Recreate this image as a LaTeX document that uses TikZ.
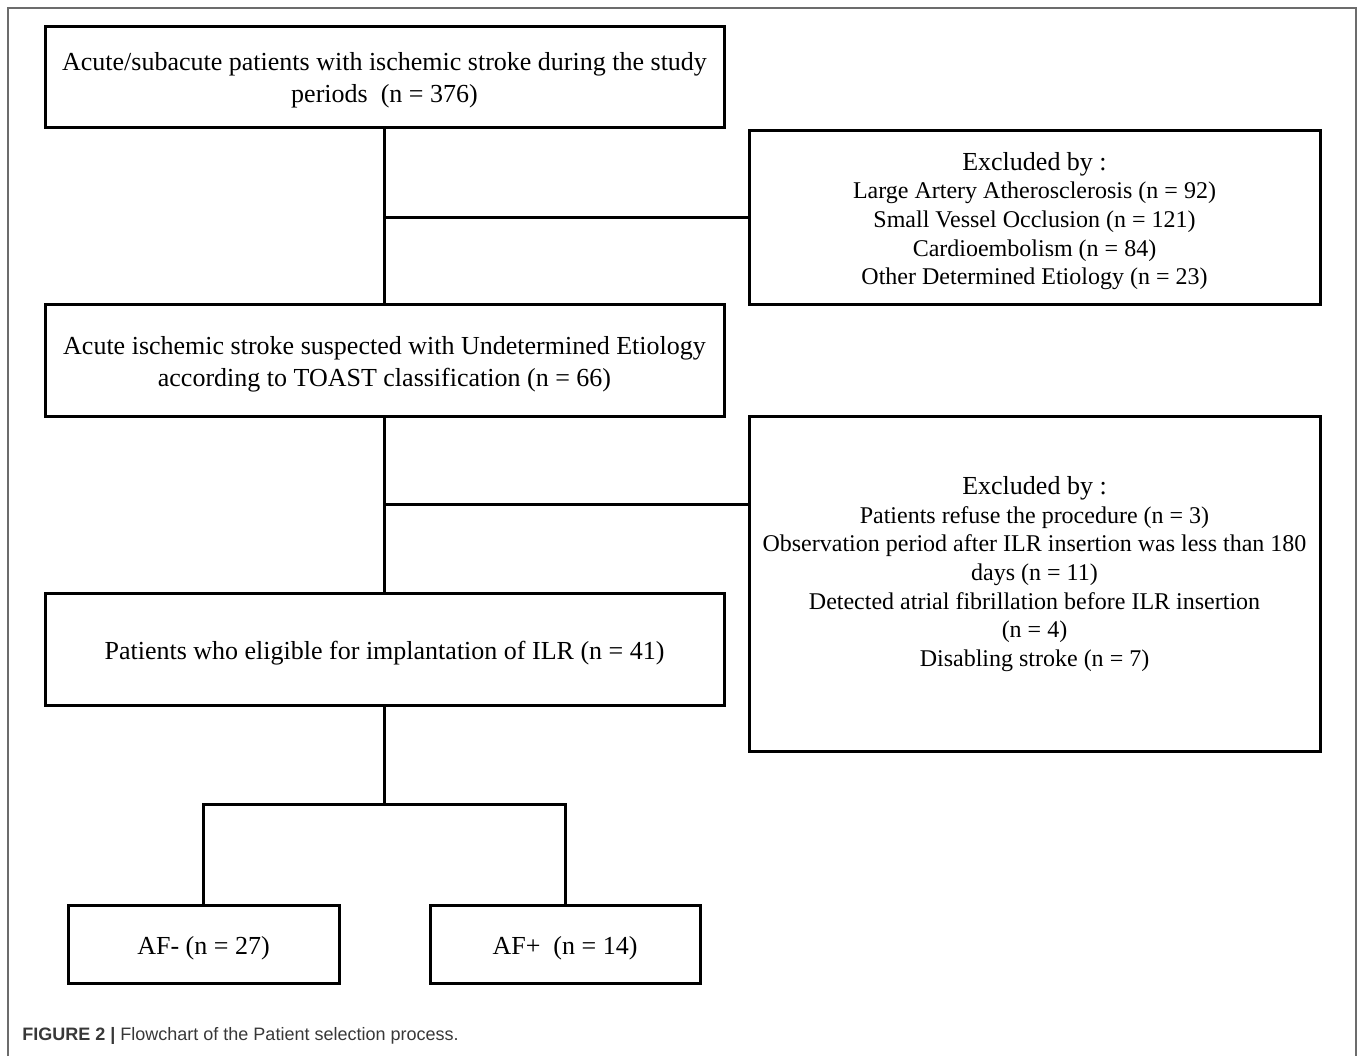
\documentclass[tikz,border=0pt]{standalone}
\usepackage{fontspec}
\setmainfont{Liberation Serif}
\newfontfamily\capfont{Liberation Sans}
\newcommand{\exhead}{{\fontsize{13}{14.3}\selectfont Excluded by :}}
\begin{document}
\begin{tikzpicture}[x=0.5pt,y=-0.5pt,
  box/.style={draw=black,line width=1.5pt,rectangle,inner sep=0pt},
  ltxt/.style={inner sep=0pt,align=center,font=\fontsize{13}{16}\selectfont},
  rtxt/.style={inner sep=0pt,align=center,font=\fontsize{12}{14.3}\selectfont},
  conn/.style={draw=black,line width=1.5pt},
  frame/.style={draw=gray!85!black,line width=1pt}]
\useasboundingbox (0,0) rectangle (1358,1056);
\draw[frame] (8,1056) -- (8,8) -- (1356,8) -- (1356,1056);

\node[box,minimum width=339.5pt,minimum height=50.5pt] (b1) at (384.5,76.5) {};
\node[ltxt] (b1t) at (384.5,80.5)
  {Acute/subacute patients with ischemic stroke during the study\\periods~~(n = 376)};
\node[box,minimum width=285.5pt,minimum height=87pt] (r1) at (1034.5,217) {};
\node[rtxt] (r1t) at (1034.5,221) {\exhead\\Large Artery Atherosclerosis (n = 92)\\Small Vessel Occlusion (n = 121)\\Cardioembolism (n = 84)\\Other Determined Etiology (n = 23)};
\node[box,minimum width=339.5pt,minimum height=56pt] (b2) at (384.5,360) {};
\node[ltxt] (b2t) at (384.5,364)
  {Acute ischemic stroke suspected with Undetermined Etiology\\according to TOAST classification (n = 66)};
\node[box,minimum width=285.5pt,minimum height=167.5pt] (r2) at (1034.5,583.5) {};
\node[rtxt] (r2t) at (1034.5,574) {\exhead\\Patients refuse the procedure (n = 3)\\Observation period after ILR insertion was less than 180\\days (n = 11)\\Detected atrial fibrillation before ILR insertion\\(n = 4)\\Disabling stroke (n = 7)};
\node[box,minimum width=339.5pt,minimum height=56pt] (b3) at (384.5,649) {};
\node[ltxt] (b3t) at (384.5,653) {Patients who eligible for implantation of ILR (n = 41)};
\node[box,minimum width=135.5pt,minimum height=39pt] (af1) at (203.5,944) {};
\node[ltxt] (af1t) at (203.5,948) {AF- (n = 27)};
\node[box,minimum width=135pt,minimum height=39pt] (af2) at (565,944) {};
\node[ltxt] (af2t) at (565,948) {AF+~~(n = 14)};

\coordinate (j1) at (b1.south |- r1.west);
\coordinate (j2) at (b2.south |- 0,504);
\coordinate (j3) at (b3.south |- 0,804);
\coordinate (jl) at (af1.north |- j3);
\coordinate (jr) at (af2.north |- j3);

\draw[conn] (b1.south) -- (b2.north);
\draw[conn] (j1) -- (r1.west);
\draw[conn] (b2.south) -- (b3.north);
\draw[conn] (j2) -- (j2 -| r2.west);
\draw[conn] (b3.south) -- (j3);
\draw[conn] (af1.north) -- (jl) -- (jr) -- (af2.north);

\node[anchor=west,inner sep=0pt,text=black!78,font=\capfont\fontsize{9}{11}\selectfont] (cap) at (22,1036)
  {\textbf{FIGURE 2} \textbf{|} Flowchart of the Patient selection process.};
\end{tikzpicture}
\end{document}
